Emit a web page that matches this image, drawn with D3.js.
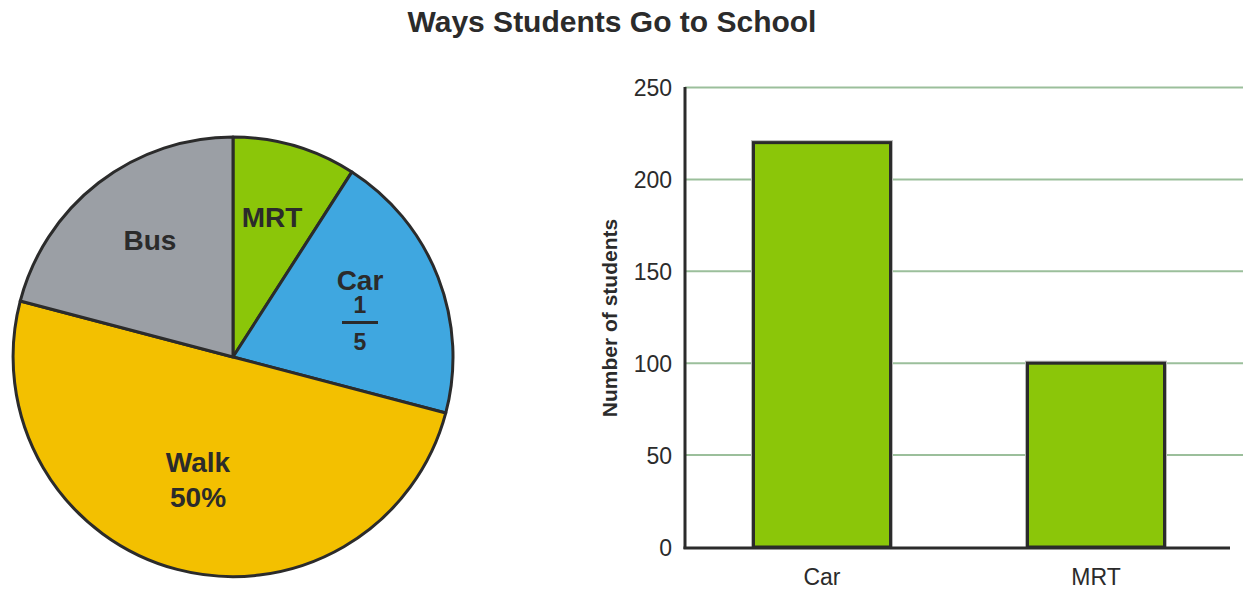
<!DOCTYPE html>
<html>
<head>
<meta charset="utf-8">
<script src="https://cdn.jsdelivr.net/npm/d3@7"></script>
<style>
  body { margin: 0; background: #fff; }
  text { font-family: "Liberation Sans", Arial, sans-serif; fill: #2b2b2b; }
</style>
</head>
<body>
<div id="chart"></div>
<script>
// pie data: share of students for each way
const pieModes = ['MRT', 'Car', 'Walk', 'Bus'];
const pieCounts = [100, 220, 550, 230];
const pieColors = ['#8bc609', '#3fa7e0', '#f3c000', '#9b9fa5'];

// bar data
const barModes = ['Car', 'MRT'];
const barCounts = [220, 100];
const yTicks = [0, 50, 100, 150, 200, 250];

const W = 1243, H = 594;
const ink = '#2b2b2b';

const svg = d3.select('#chart').append('svg')
	.attr('width', W)
	.attr('height', H);

svg.append('text')
	.attr('x', 612).attr('y', 32)
	.attr('text-anchor', 'middle')
	.style('font-size', '30px')
	.style('font-weight', 'bold')
	.text('Ways Students Go to School');

// ---- pie ----
const cx = 233, cy = 357, r = 220;
const pieG = svg.append('g').attr('transform', `translate(${cx},${cy})`);

const pie = d3.pie().sort(null).value(function(d){ return d; });
const arcs = pie(pieCounts);
const arc = d3.arc().innerRadius(0).outerRadius(r);

pieG.selectAll('path').data(arcs).join('path')
	.attr('d', arc)
	.attr('fill', function(d, i){ return pieColors[i]; })
	.attr('stroke', ink)
	.attr('stroke-width', 3)
	.attr('stroke-linejoin', 'round');

// labels (placed relative to the centre)
const lab = pieG.append('g')
	.style('font-size', '28px')
	.style('font-weight', 'bold')
	.attr('text-anchor', 'middle');

lab.append('text').attr('x', 39).attr('y', -130).text('MRT');
lab.append('text').attr('x', -83).attr('y', -107).text('Bus');
lab.append('text').attr('x', 127).attr('y', -67).text('Car');
lab.append('text').attr('x', 127).attr('y', -44).style('font-size', '23px').text('1');
lab.append('line')
	.attr('x1', 109).attr('x2', 145)
	.attr('y1', -34.5).attr('y2', -34.5)
	.attr('stroke', ink).attr('stroke-width', 3);
lab.append('text').attr('x', 127).attr('y', -7).style('font-size', '23px').text('5');
lab.append('text').attr('x', -35).attr('y', 115).text('Walk');
lab.append('text').attr('x', -35).attr('y', 150).text('50%');

// ---- bar chart ----
const x = d3.scaleBand()
	.domain(barModes)
	.range([685, 1233])
	.paddingInner(0.5)
	.paddingOuter(0.25);

const y = d3.scaleLinear()
	.domain([0, 250])
	.range([547, 87.5]);

svg.append('g').selectAll('line').data(yTicks.slice(1)).join('line')
	.attr('x1', 685).attr('x2', 1243)
	.attr('y1', function(d){ return y(d); })
	.attr('y2', function(d){ return y(d); })
	.attr('stroke', '#9bbf9b')
	.attr('stroke-width', 2);

svg.append('g').selectAll('text').data(yTicks).join('text')
	.attr('x', 672)
	.attr('y', function(d){ return y(d) + 8.5; })
	.attr('text-anchor', 'end')
	.style('font-size', '23px')
	.text(function(d){ return d; });

// bars: light halo then dark outline
const bars = svg.append('g');
bars.selectAll('rect.halo').data(barCounts).join('rect')
	.attr('class', 'halo')
	.attr('x', function(d, i){ return x(barModes[i]) - 1.5; })
	.attr('y', function(d){ return y(d) - 1.5; })
	.attr('width', x.bandwidth() + 3)
	.attr('height', function(d){ return y(0) - y(d) + 1.5; })
	.attr('fill', 'none')
	.attr('stroke', '#b8b8b8')
	.attr('stroke-width', 2);
bars.selectAll('rect.bar').data(barCounts).join('rect')
	.attr('class', 'bar')
	.attr('x', function(d, i){ return x(barModes[i]); })
	.attr('y', function(d){ return y(d); })
	.attr('width', x.bandwidth())
	.attr('height', function(d){ return y(0) - y(d); })
	.attr('fill', '#8bc609')
	.attr('stroke', ink)
	.attr('stroke-width', 3);

// axes
svg.append('line')
	.attr('x1', 685).attr('x2', 685)
	.attr('y1', 87).attr('y2', 549)
	.attr('stroke', ink).attr('stroke-width', 3);
svg.append('line')
	.attr('x1', 683.5).attr('x2', 1230)
	.attr('y1', 548).attr('y2', 548)
	.attr('stroke', ink).attr('stroke-width', 3);

svg.append('g').selectAll('text').data(barModes).join('text')
	.attr('x', function(d){ return x(d) + x.bandwidth() / 2; })
	.attr('y', 585)
	.attr('text-anchor', 'middle')
	.style('font-size', '23px')
	.text(function(d){ return d; });

svg.append('text')
	.attr('transform', 'translate(617,318) rotate(-90)')
	.attr('text-anchor', 'middle')
	.style('font-size', '21px')
	.style('font-weight', 'bold')
	.text('Number of students');
</script>
</body>
</html>
